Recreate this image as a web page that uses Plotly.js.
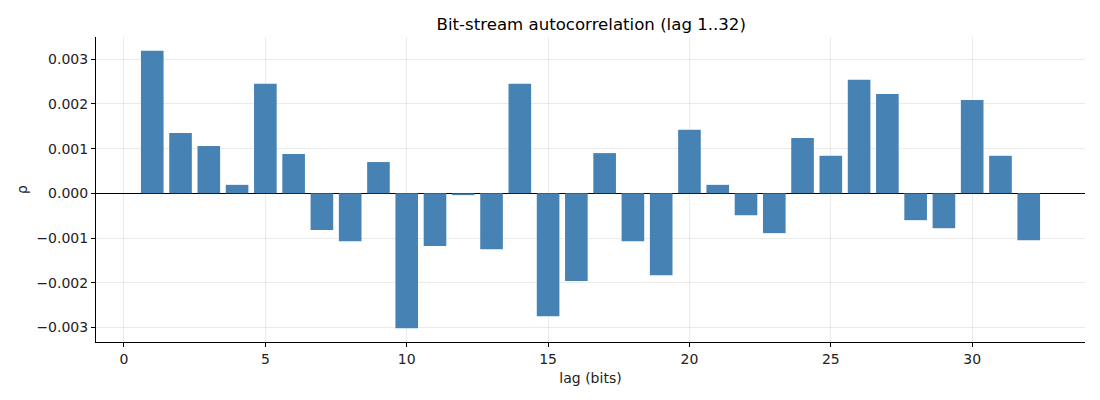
<!DOCTYPE html>
<html>
<head>
<meta charset="utf-8">
<script src="https://cdn.plot.ly/plotly-3.0.1.min.js"></script>
<style>
  html, body { margin: 0; padding: 0; background: #fff; }
  #chart { width: 1100px; height: 400px; }
</style>
</head>
<body>
<div id="chart"></div>
<script>
// lag 1..32
const lags = [];
for (let i = 1; i <= 32; i++) lags.push(i);

// autocorrelation values
const rho = [
  0.00319, 0.00135, 0.00106, 0.00019, 0.00245, 0.00088, -0.00082, -0.00107,
  0.00070, -0.00302, -0.00118, -0.00004, -0.00125, 0.00245, -0.00275, -0.00196,
  0.00090, -0.00107, -0.00183, 0.00142, 0.00019, -0.00049, -0.00089, 0.00124,
  0.00084, 0.00254, 0.00222, -0.00060, -0.00078, 0.00209, 0.00084, -0.00105,
];

const xTicks = [0, 5, 10, 15, 20, 25, 30];
const yTicks = [-0.003, -0.002, -0.001, 0, 0.001, 0.002, 0.003];
const yTickText = ["\u22120.003", "\u22120.002", "\u22120.001", "0.000", "0.001", "0.002", "0.003"];

const font = "DejaVu Sans, sans-serif";

const trace = {
  type: "bar",
  x: lags,
  y: rho,
  width: 0.8,
  marker: { color: "#4682b4", line: { width: 0 } },
  hoverinfo: "x+y",
};

const layout = {
  width: 1100,
  height: 400,
  margin: { l: 96, r: 15, t: 37, b: 58 },
  paper_bgcolor: "#fff",
  plot_bgcolor: "#fff",
  showlegend: false,
  font: { family: font, size: 14, color: "#000" },
  title: {
    text: "Bit-stream autocorrelation (lag 1..32)",
    font: { family: font, size: 16.6, color: "#000" },
    x: 0.5375,
    xanchor: "center",
    y: 0.94,
    yanchor: "middle",
  },
  xaxis: {
    range: [-0.99, 33.99],
    tickvals: xTicks,
    ticktext: xTicks.map(String),
    showgrid: true,
    gridcolor: "rgba(0,0,0,0.1)",
    gridwidth: 0.8,
    zeroline: false,
    showline: true,
    linecolor: "#000",
    linewidth: 1,
    ticks: "outside",
    ticklen: 4,
    tickwidth: 1,
    tickcolor: "#000",
    tickfont: { family: font, size: 14, color: "#222" },
    title: { text: "lag (bits)", font: { family: font, size: 14, color: "#222" }, standoff: 7 },
    layer: "above traces",
  },
  yaxis: {
    range: [-0.003325, 0.003497],
    tickvals: yTicks,
    ticktext: yTickText,
    showgrid: true,
    gridcolor: "rgba(0,0,0,0.1)",
    gridwidth: 0.8,
    zeroline: true,
    zerolinecolor: "#000",
    zerolinewidth: 1,
    showline: true,
    linecolor: "#000",
    linewidth: 1,
    ticks: "outside",
    ticklen: 4,
    tickwidth: 1,
    tickcolor: "#000",
    tickfont: { family: font, size: 14, color: "#222" },
    title: { text: "ρ", font: { family: font, size: 14, color: "#222" }, standoff: 5 },
    layer: "above traces",
  },
};

Plotly.newPlot("chart", [trace], layout, { displayModeBar: false, staticPlot: true });
</script>
</body>
</html>
